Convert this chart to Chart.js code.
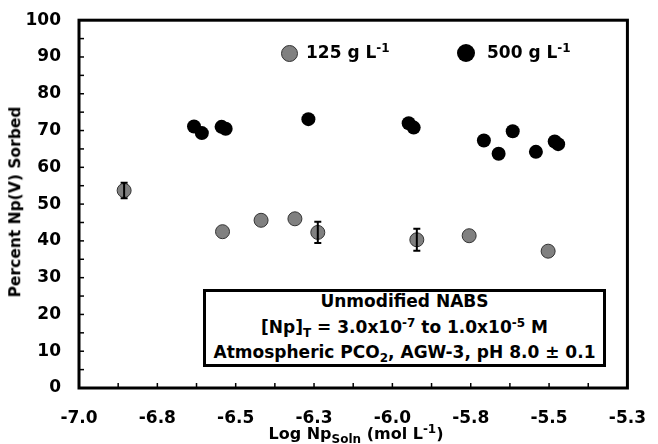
<!DOCTYPE html>
<html>
<head>
<meta charset="utf-8">
<script src="https://cdn.jsdelivr.net/npm/chart.js@4.4.1/dist/chart.umd.min.js"></script>
<style>
  body { margin: 0; background: #fff; }
  #wrap { position: relative; width: 658px; height: 444px; font-family: "DejaVu Sans", Verdana, sans-serif; font-weight: bold; color: #000; }
  #chart { position: absolute; left: 0; top: 0; }
  .lbl { position: absolute; font-size: 17px; white-space: nowrap; line-height: 1; }
  sup { font-size: 12px; vertical-align: 6px; line-height: 0; }
  sub { font-size: 12px; vertical-align: -4px; line-height: 0; }
  .dot { position: absolute; border-radius: 50%; }
  #note { position: absolute; left: 203px; top: 289px; width: 397px; height: 72px; border: 3px solid #000; background: #fff;
          font-size: 17px; text-align: center; line-height: 25.5px; box-sizing: content-box; }
  #note .in { margin-top: -3px; }
</style>
</head>
<body>
<div id="wrap">
  <canvas id="chart" width="658" height="444"></canvas>
  <div class="dot" style="left:281px;top:45px;width:15px;height:15px;background:#808080;border:1px solid #333;"></div>
  <div class="lbl" style="left:306px;top:44px;">125 g L<sup>-1</sup></div>
  <div class="dot" style="left:457px;top:44px;width:18px;height:18px;background:#000;"></div>
  <div class="lbl" style="left:487px;top:44px;">500 g L<sup>-1</sup></div>
  <div id="note"><div class="in">
    <div>Unmodified NABS</div>
    <div>[Np]<sub>T</sub> = 3.0x10<sup>-7</sup> to 1.0x10<sup>-5</sup> M</div>
    <div>Atmospheric PCO<sub>2</sub>, AGW-3, pH 8.0 ± 0.1</div>
  </div></div>
  <div class="lbl" style="left:356px;top:426px;font-size:16px;transform:translateX(-50%);">Log Np<sub>Soln</sub> (mol L<sup>-1</sup>)</div>
  <div class="lbl" style="left:16px;top:202px;font-size:15.5px;transform:translate(-50%,-50%) rotate(-90deg);">Percent Np(V) Sorbed</div>
</div>
<script>
// 125 g/L series
const logNp125 = [-6.856, -6.542, -6.419, -6.311, -6.238, -5.922, -5.755, -5.503];
const sorbed125 = [53.7, 42.5, 45.6, 46.0, 42.3, 40.3, 41.4, 37.2];
const err125 = [2.1, 0, 0, 0, 2.9, 3.0, 0, 0];

// 500 g/L series
const logNp500 = [-6.633, -6.608, -6.545, -6.532, -6.268, -5.948, -5.932, -5.708, -5.661, -5.616, -5.542, -5.482, -5.471];
const sorbed500 = [71.1, 69.3, 71.0, 70.5, 73.1, 72.0, 70.8, 67.3, 63.7, 69.8, 64.2, 67.0, 66.3];

const xMin = -7.0, xMax = -5.25, xMajor = 0.25, xMinor = 0.125;
const yMin = 0, yMax = 100, yMajor = 10, yMinor = 5;

const pts125 = logNp125.map((x, i) => ({ x: x, y: sorbed125[i] }));
const pts500 = logNp500.map((x, i) => ({ x: x, y: sorbed500[i] }));

// error bars for the 125 g/L points
const errorBars = {
    id: 'errorBars',
    afterDatasetsDraw(chart) {
        const ctx = chart.ctx;
        const xs = chart.scales.x, ys = chart.scales.y;
        ctx.save();
        ctx.strokeStyle = '#000';
        ctx.lineWidth = 2;
        err125.forEach((e, i) => {
            if (!e) return;
            const px = xs.getPixelForValue(logNp125[i]);
            const top = ys.getPixelForValue(sorbed125[i] + e);
            const bot = ys.getPixelForValue(sorbed125[i] - e);
            ctx.beginPath();
            ctx.moveTo(px, top); ctx.lineTo(px, bot);
            ctx.moveTo(px - 3.5, top); ctx.lineTo(px + 3.5, top);
            ctx.moveTo(px - 3.5, bot); ctx.lineTo(px + 3.5, bot);
            ctx.stroke();
        });
        ctx.restore();
    }
};

// frame and inward tick marks
const frame = {
    id: 'frame',
    beforeDatasetsDraw(chart) {
        const ctx = chart.ctx;
        const a = chart.chartArea;
        ctx.save();
        ctx.strokeStyle = '#000';
        ctx.lineWidth = 1.5;
        chart.scales.x.ticks.forEach(t => {
            const px = chart.scales.x.getPixelForValue(t.value);
            ctx.beginPath(); ctx.moveTo(px, a.bottom); ctx.lineTo(px, a.bottom - 5); ctx.stroke();
        });
        chart.scales.y.ticks.forEach(t => {
            const py = chart.scales.y.getPixelForValue(t.value);
            ctx.beginPath(); ctx.moveTo(a.left, py); ctx.lineTo(a.left + 5, py); ctx.stroke();
        });
        ctx.lineWidth = 3;
        ctx.strokeRect(a.left, a.top, a.right - a.left, a.bottom - a.top);
        ctx.restore();
    }
};

const ctx = document.getElementById('chart').getContext('2d');
new Chart(ctx, {
    type: 'scatter',
    data: {
        datasets: [{
            label: '125 g L-1',
            data: pts125,
            backgroundColor: '#808080',
            borderColor: '#333',
            borderWidth: 1,
            pointRadius: 7,
            order: 1
        }, {
            label: '500 g L-1',
            data: pts500,
            backgroundColor: '#000',
            borderColor: '#000',
            borderWidth: 0,
            pointRadius: 7,
            order: 2
        }]
    },
    options: {
        responsive: false,
        animation: false,
        layout: { padding: { top: 18, right: 20, left: 0, bottom: 0 } },
        plugins: { legend: { display: false }, tooltip: { enabled: false } },
        scales: {
            x: {
                type: 'linear', min: xMin, max: xMax,
                grid: { display: false }, border: { display: false },
                afterFit: s => { s.height = 56; },
                ticks: {
                    stepSize: xMinor, autoSkip: false, maxRotation: 0, padding: 12,
                    color: '#000', font: { family: 'DejaVu Sans', size: 17, weight: 'bold' },
                    callback: v => (Math.abs(v / xMajor - Math.round(v / xMajor)) < 1e-6 ? v.toFixed(1) : '')
                }
            },
            y: {
                min: yMin, max: yMax,
                grid: { display: false }, border: { display: false },
                afterFit: s => { s.width = 79; },
                ticks: {
                    stepSize: yMinor, autoSkip: false, padding: 10,
                    color: '#000', font: { family: 'DejaVu Sans', size: 17, weight: 'bold' },
                    callback: v => (v % yMajor === 0 ? v : '')
                }
            }
        }
    },
    plugins: [frame, errorBars]
});
</script>
</body>
</html>
